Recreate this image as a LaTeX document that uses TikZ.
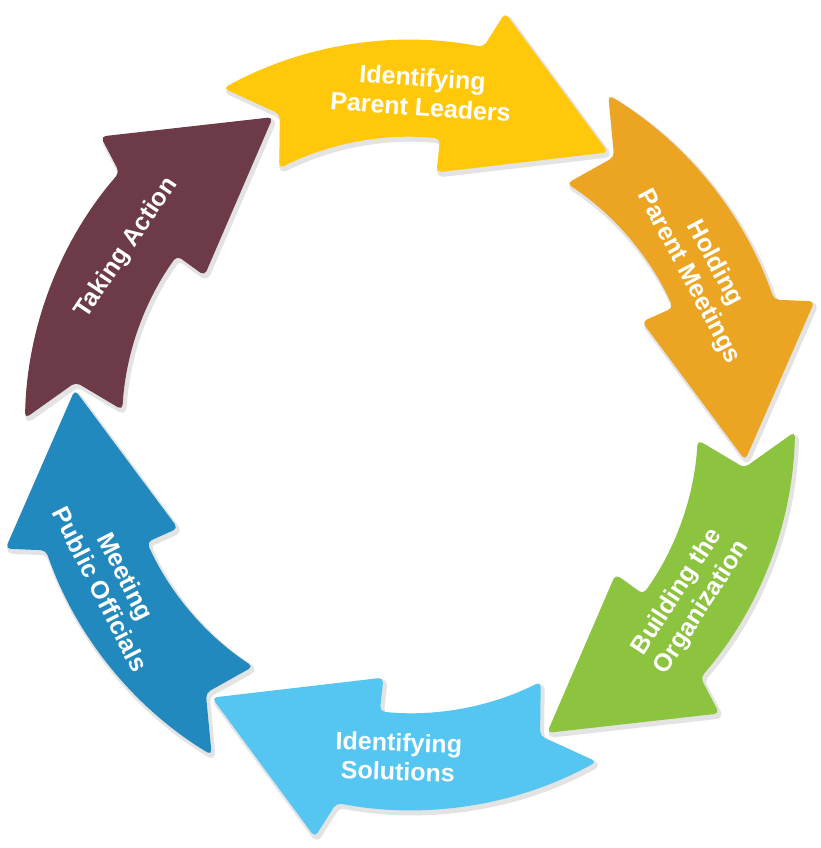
\documentclass[tikz,border=0pt]{standalone}
\usepackage{fontspec}
\setmainfont{Liberation Sans}
\usetikzlibrary{positioning}
\definecolor{stepyellow}{HTML}{FFC80B}
\definecolor{steporange}{HTML}{EBA523}
\definecolor{stepgreen}{HTML}{8CC43F}
\definecolor{steplight}{HTML}{55C6F2}
\definecolor{stepblue}{HTML}{2289BE}
\definecolor{stepmaroon}{HTML}{6D3A47}
\tikzset{
  pics/cyclearrow/.style={code={
    \path[rounded corners=5pt, #1]
      (65:385pt) arc[start angle=65, end angle=25, radius=385pt]
      -- (23:423pt) -- (0:337pt) -- (30:254pt) -- (30:288pt)
      arc[start angle=30, end angle=63, radius=288pt]
      -- (58.7:337pt) -- cycle;
  }},
  arrowshadow/.style={fill=black!11, draw=black!11, line width=4pt, line join=round},
  steplabel/.style={text=white, font=\fontsize{25}{29}\selectfont\bfseries,
    align=center, inner sep=0pt},
}
\begin{document}
\begin{tikzpicture}
\fill[white] (-410pt,-423pt) rectangle (410pt,425pt);
\useasboundingbox (-410pt,-423pt) rectangle (410pt,425pt);
% --- shadows ---
\pic[rotate=54] at (2pt,-3pt) {cyclearrow={arrowshadow}};
\pic[rotate=-6] at (2pt,-3pt) {cyclearrow={arrowshadow}};
\pic[rotate=-66] at (2pt,-3pt) {cyclearrow={arrowshadow}};
\pic[rotate=-126] at (2pt,-3pt) {cyclearrow={arrowshadow}};
\pic[rotate=174] at (2pt,-3pt) {cyclearrow={arrowshadow}};
\pic[rotate=114] at (2pt,-3pt) {cyclearrow={arrowshadow}};
% --- arrows ---
\pic[rotate=54] {cyclearrow={fill=stepyellow}};
\pic[rotate=-6] {cyclearrow={fill=steporange}};
\pic[rotate=-66] {cyclearrow={fill=stepgreen}};
\pic[rotate=-126] {cyclearrow={fill=steplight}};
\pic[rotate=174] {cyclearrow={fill=stepblue}};
\pic[rotate=114] {cyclearrow={fill=stepmaroon}};
% --- labels ---
\node[steplabel, rotate=-4] (leaders) at (88:333pt) {Identifying\\Parent Leaders};
\node[steplabel, rotate=-62] (meetings) at (28:330pt) {Holding\\Parent Meetings};
\node[steplabel, rotate=57] (organization) at (-32:330pt) {Building the\\Organization};
\node[steplabel, rotate=-2] (solutions) at (-92:332pt) {Identifying\\Solutions};
\node[steplabel, rotate=-63] (officials) at (208:336pt) {Meeting\\Public Officials};
\node[steplabel, rotate=56] (action) at (148:334pt) {Taking Action};
\end{tikzpicture}
\end{document}
